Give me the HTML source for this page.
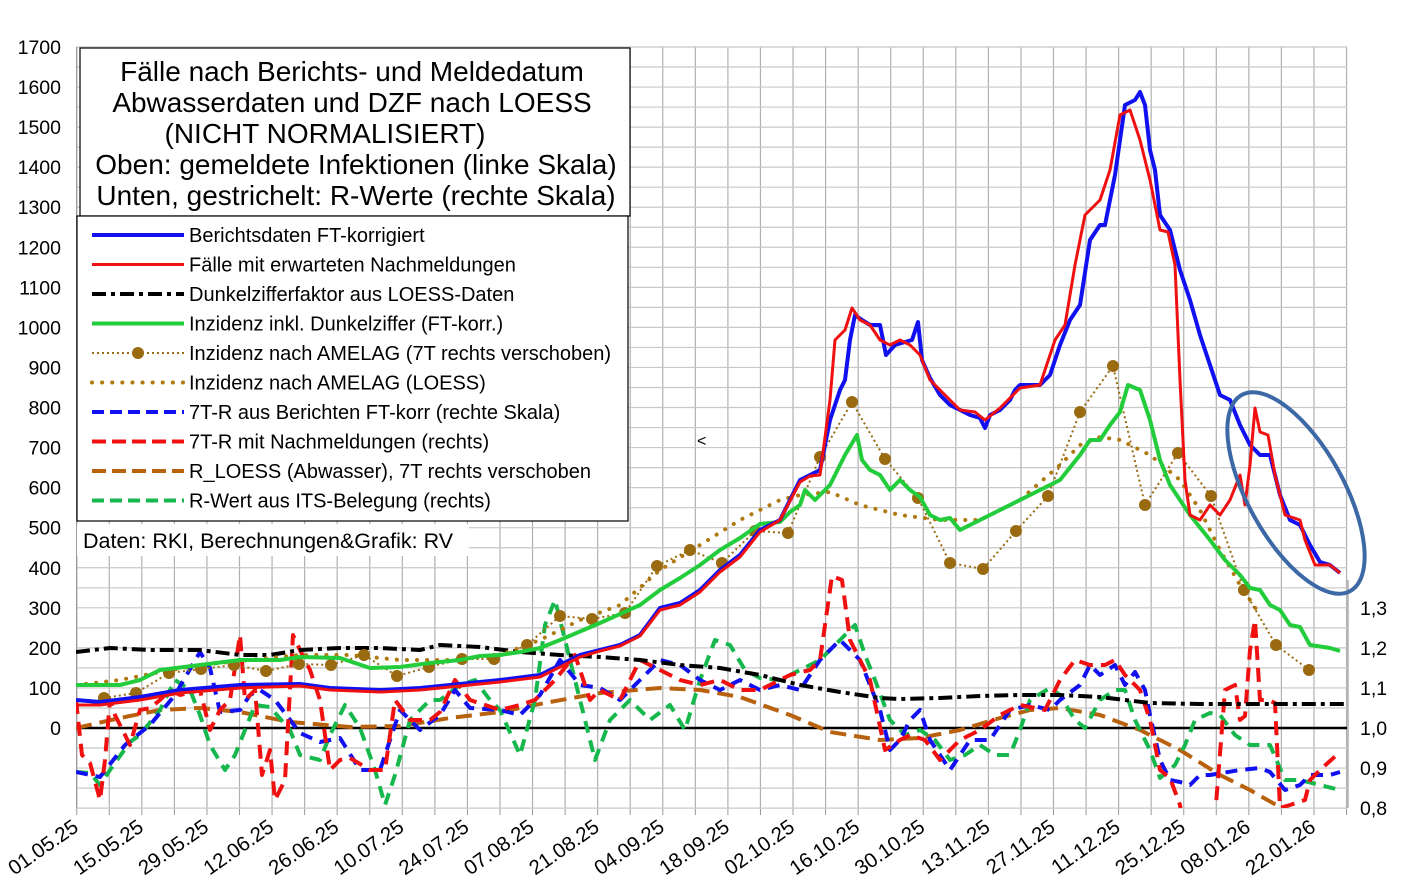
<!DOCTYPE html>
<html><head><meta charset="utf-8"><style>
body{margin:0;background:#fff}
svg{display:block;font-family:"Liberation Sans",sans-serif}
</style></head><body>
<svg id="s" width="1406" height="885" xmlns="http://www.w3.org/2000/svg">
<rect width="1406" height="885" fill="#fff"/>
<g id="grid"></g>
<defs><clipPath id="c"><rect x="76" y="40" width="1272" height="768"/></clipPath></defs>
<g id="series" clip-path="url(#c)"></g>
<g id="labels" font-size="19.5" fill="#000"></g>
<ellipse cx="1296" cy="493" rx="112" ry="48" transform="rotate(61 1296 493)" fill="none" stroke="#3c68a6" stroke-width="4"/>
<text x="697" y="446" font-size="16">&lt;</text>
<rect x="80" y="48" width="550" height="168" fill="#fff" stroke="#000" stroke-width="1.2"/>
<g font-size="28" text-anchor="middle">
<text x="352" y="81">Fälle nach Berichts- und Meldedatum</text>
<text x="352" y="112">Abwasserdaten und DZF nach LOESS</text>
<text x="325" y="143">(NICHT NORMALISIERT)</text>
<text x="356" y="174">Oben: gemeldete Infektionen (linke Skala)</text>
<text x="356" y="205">Unten, gestrichelt: R-Werte (rechte Skala)</text>
</g>
<rect x="77" y="216" width="551" height="305" fill="#fff" stroke="#000" stroke-width="1.2"/>
<rect x="77" y="524" width="392" height="32" fill="#fff"/>
<text x="83" y="548" font-size="21.5">Daten: RKI, Berechnungen&amp;Grafik: RV</text>
<g id="leg" font-size="20"></g>
</svg>
<script>
const NS="http://www.w3.org/2000/svg";
function el(p,t,a,txt){const e=document.createElementNS(NS,t);for(const k in a)e.setAttribute(k,a[k]);if(txt!==undefined)e.textContent=txt;p.appendChild(e);return e;}
const G=document.getElementById('grid'),S=document.getElementById('series'),L=document.getElementById('labels'),LG=document.getElementById('leg');
for(let i=0;i<=39;i++){const x=76.7+i*32.56;el(G,'line',{x1:x,y1:47,x2:x,y2:808,stroke:'#b0b0b0','stroke-width':1.2});
 el(G,'line',{x1:x,y1:808,x2:x,y2:815,stroke:'#999','stroke-width':1});}
for(let v=-200;v<=1700;v+=50){const y=728-v*0.4006;el(G,'line',{x1:76.7,y1:y,x2:1347,y2:y,stroke:'#c8c8c8','stroke-width':1.2});}
el(G,'line',{x1:1348,y1:580,x2:1348,y2:808,stroke:'#999','stroke-width':1.2});
el(G,'line',{x1:76.7,y1:47,x2:76.7,y2:808,stroke:'#999','stroke-width':1.2});
el(G,'line',{x1:76,y1:728,x2:1347,y2:728,stroke:'#000','stroke-width':2.5});
for(let v=0;v<=1700;v+=100){el(L,'text',{x:61,y:728-v*0.4006+7,'text-anchor':'end'},String(v));}
['1,3','1,2','1,1','1,0','0,9','0,8'].forEach((t,i)=>el(L,'text',{x:1360,y:608+i*40+7},t));
const dates=['01.05.25','15.05.25','29.05.25','12.06.25','26.06.25','10.07.25','24.07.25','07.08.25','21.08.25','04.09.25','18.09.25','02.10.25','16.10.25','30.10.25','13.11.25','27.11.25','11.12.25','25.12.25','08.01.26','22.01.26'];
dates.forEach((d,i)=>{const x=76.7+i*65.12+3,y=830;el(L,'text',{x:x,y:y,'text-anchor':'end',transform:`rotate(-35 ${x} ${y})`,'font-size':20.5},d);});
function P(str,st){const pts=str.trim().split(/;\s*/).map(s=>s.split(',').map(Number));
 el(S,'polyline',Object.assign({points:pts.map(p=>p.join(',')).join(' '),fill:'none','stroke-linejoin':'round'},st));return pts;}
P("76,728;120,718;160,710;200,708;240,712;290,722;350,727;400,726;450,718;500,712;550,702;600,693;660,688;700,690;740,697;790,715;830,732;880,740;920,738;960,730;1000,718;1030,710;1060,708;1100,715;1140,730;1180,750;1220,775;1250,790;1285,810",{stroke:'#b8610e','stroke-width':4,'stroke-dasharray':'16,8'});
P("76,772;90,773;100,785;110,770;130,742;140,735;160,710;175,680;190,690;200,715;210,745;225,770;235,755;255,705;270,707;290,730;300,755;320,760;330,735;345,705;360,728;375,770;385,805;395,775;410,720;430,700;440,700;460,685;475,680;490,700;500,710;520,755;535,700;545,625;555,600;565,640;580,700;595,760;610,720;630,700;650,720;670,705;685,730;700,680;715,640;730,645;745,670;760,678;780,680;800,670;820,660;840,640;855,625;865,655;875,680;890,720;905,735;920,730;935,740;950,760;965,755;980,745;995,755;1010,755;1020,730;1030,700;1050,688;1060,695;1075,720;1085,728;1100,700;1115,690;1125,690;1135,720;1150,750;1160,778;1175,765;1185,745;1195,720;1210,713;1220,715;1235,735;1250,745;1270,745;1285,780;1300,780;1320,785;1340,790",{stroke:'#16b84e','stroke-width':4,'stroke-dasharray':'12,8'});
P("76,772;100,777;125,745;150,725;175,695;200,652;210,668;220,712;240,710;250,695;260,690;275,700;300,733;320,742;340,738;360,770;380,770;400,710;420,730;440,715;455,690;470,708;500,710;520,715;540,695;560,660;580,685;600,688;620,700;640,680;660,660;680,665;700,680;720,690;740,680;760,690;780,685;800,690;820,660;840,640;860,660;880,710;890,750;900,740;910,720;920,710;930,740;950,770;970,740;990,740;1010,710;1030,705;1050,710;1060,700;1080,685;1090,665;1100,675;1115,665;1125,685;1135,672;1145,690;1150,715;1160,760;1170,780;1180,782;1190,785;1200,775;1210,775;1240,770;1260,768;1270,772;1285,790;1300,785;1310,775;1330,775;1340,772",{stroke:'#1010f0','stroke-width':4,'stroke-dasharray':'12,8'});
P("76,700;82,755;90,763;100,800;105,760;110,700;115,715;130,745;140,710;150,708;160,700;170,690;180,695;200,690;210,730;220,710;230,700;240,635;245,700;255,690;262,775;270,750;275,800;285,780;293,635;300,650;310,670;320,700;330,770;340,760;350,758;370,770;385,770;395,700;410,720;430,720;440,712;455,680;470,700;500,710;520,705;535,700;555,680;575,655;590,700;600,690;620,700;640,660;660,670;680,680;700,685;720,680;740,690;760,690;790,675;810,670;820,660;832,576;842,580;850,640;860,660;870,680;885,750;900,740;910,735;925,740;940,760;960,740;980,730;1000,715;1020,705;1045,710;1060,680;1075,660;1090,665;1105,665;1115,660;1125,675;1140,690;1150,720;1160,770;1170,778;1180,805;1184,830;1214,830;1225,690;1235,685;1240,720;1245,716;1250,650;1255,620;1260,700;1268,700;1275,703;1280,808;1290,805;1305,800;1310,780;1320,770;1340,752",{stroke:'#f01010','stroke-width':4,'stroke-dasharray':'14,8'});
P("76,652;110,648;150,650;200,650;240,655;270,655;300,650;340,648;380,648;420,650;440,645;480,647;520,652;560,655;600,657;640,660;680,665;720,668;760,675;800,685;840,692;880,698;900,699;940,698;980,696;1020,695;1060,695;1100,697;1150,703;1200,704;1346,704",{stroke:'#000','stroke-width':4,'stroke-dasharray':'14,5,4,5'});
P("76,685;120,680;160,672;200,665;250,660;300,655;350,655;400,660;450,660;500,655;540,640;580,620;620,605;660,570;700,545;740,520;780,500;800,495;830,492;860,505;900,515;940,520;980,520;1020,500;1060,465;1080,445;1100,437;1120,440;1150,455;1180,480;1200,510;1220,550;1240,585;1260,615",{stroke:'#b07a10','stroke-width':4,'stroke-dasharray':'0.1,10','stroke-linecap':'round'});
const am=P("104,698;136,693;169,673;201,669;234,665;266,671;299,664;331,665;364,655;397,676;429,667;462,659;494,659;527,645;560,616;592,619;625,613;657,566;690,550;722,563;755,531;788,533;820,457;852,402;885,459;918,498;950,563;983,569;1016,531;1048,496;1080,412;1113,366;1145,505;1178,453;1211,496;1244,590;1276,645;1309,670",{stroke:'#9a6a10','stroke-width':2,'stroke-dasharray':'2,3'});
am.forEach(p=>el(S,'circle',{cx:p[0],cy:p[1],r:6,fill:'#9a6a10'}));
P("76,685;120,685;140,680;160,670;200,665;240,660;280,660;300,657;340,658;370,668;400,667;430,663;460,660;480,656;500,655;520,652;540,648;560,640;600,623;640,605;660,590;680,578;700,565;720,550;740,538;760,524;780,522;790,512;800,505;805,490;815,500;830,485;845,455;857,435;862,460;870,470;880,475;890,490;900,480;910,490;920,497;930,515;940,520;950,518;960,530;970,525;980,520;990,515;1000,510;1020,500;1040,490;1060,480;1080,455;1090,440;1100,440;1110,425;1120,412;1128,385;1140,390;1150,420;1160,460;1170,485;1180,500;1190,515;1210,540;1225,560;1240,575;1250,588;1260,590;1270,605;1280,610;1290,625;1300,627;1310,645;1330,648;1340,651",{stroke:'#22cc3a','stroke-width':4});
P("76,700;100,702;140,697;180,690;240,685;300,684;330,688;380,690;420,688;460,684;500,680;540,675;560,665;580,655;600,650;620,645;640,635;660,608;680,603;700,590;720,570;740,555;760,530;780,520;800,480;810,475;820,470;830,420;840,390;845,380;850,340;855,315;862,320;870,325;880,325;886,355;895,345;905,342;912,340;918,322;922,360;930,378;940,395;950,405;960,410;970,415;980,418;985,428;990,415;1000,410;1010,400;1015,390;1020,385;1030,385;1040,385;1050,375;1060,345;1070,320;1080,305;1090,240;1100,225;1105,225;1115,175;1125,105;1135,100;1140,92;1145,105;1150,150;1155,170;1160,215;1170,230;1180,270;1190,300;1200,335;1210,365;1220,395;1230,400;1240,425;1250,445;1260,455;1270,455;1280,495;1290,520;1300,525;1310,545;1320,562;1330,565;1340,573",{stroke:'#1010f0','stroke-width':4});
P("76,705;100,705;140,700;180,693;240,688;300,686;330,690;380,692;420,690;460,686;500,682;540,677;560,667;580,657;600,651;620,646;640,636;660,610;680,605;700,592;720,572;740,557;760,532;780,520;800,482;810,476;820,475;830,400;835,340;845,330;852,308;860,320;870,325;880,340;890,345;900,340;910,345;920,355;930,380;940,390;950,400;960,410;975,412;985,420;1000,408;1010,398;1020,388;1040,385;1055,340;1065,325;1075,265;1085,215;1100,200;1110,170;1120,115;1130,110;1140,140;1150,180;1160,230;1168,232;1175,265;1180,380;1185,480;1190,515;1200,520;1210,505;1220,515;1230,500;1240,475;1245,505;1250,465;1255,408;1260,432;1268,435;1275,475;1285,515;1300,520;1305,540;1315,565;1330,565;1340,573",{stroke:'#f01010','stroke-width':3});
const items=[
['Berichtsdaten FT-korrigiert',{stroke:'#1010f0','stroke-width':4}],
['Fälle mit erwarteten Nachmeldungen',{stroke:'#f01010','stroke-width':3}],
['Dunkelzifferfaktor aus LOESS-Daten',{stroke:'#000','stroke-width':4,'stroke-dasharray':'14,5,4,5'}],
['Inzidenz inkl. Dunkelziffer (FT-korr.)',{stroke:'#22cc3a','stroke-width':4}],
['Inzidenz nach AMELAG (7T rechts verschoben)',{stroke:'#9a6a10','stroke-width':2,'stroke-dasharray':'2,3'}],
['Inzidenz nach AMELAG (LOESS)',{stroke:'#b07a10','stroke-width':4,'stroke-dasharray':'0.1,10','stroke-linecap':'round'}],
['7T-R aus Berichten FT-korr (rechte Skala)',{stroke:'#1010f0','stroke-width':4,'stroke-dasharray':'12,6'}],
['7T-R mit Nachmeldungen (rechts)',{stroke:'#f01010','stroke-width':4,'stroke-dasharray':'14,6'}],
['R_LOESS (Abwasser), 7T rechts verschoben',{stroke:'#b8610e','stroke-width':4,'stroke-dasharray':'14,6'}],
['R-Wert aus ITS-Belegung (rechts)',{stroke:'#16b84e','stroke-width':4,'stroke-dasharray':'12,6'}]];
items.forEach((it,i)=>{const y=235+i*29.5;el(LG,'line',Object.assign({x1:92,y1:y,x2:184,y2:y},it[1]));
 if(i==4)el(LG,'circle',{cx:138,cy:y,r:6,fill:'#9a6a10'});
 el(LG,'text',{x:189,y:y+7},it[0]);});
</script>
</body></html>
